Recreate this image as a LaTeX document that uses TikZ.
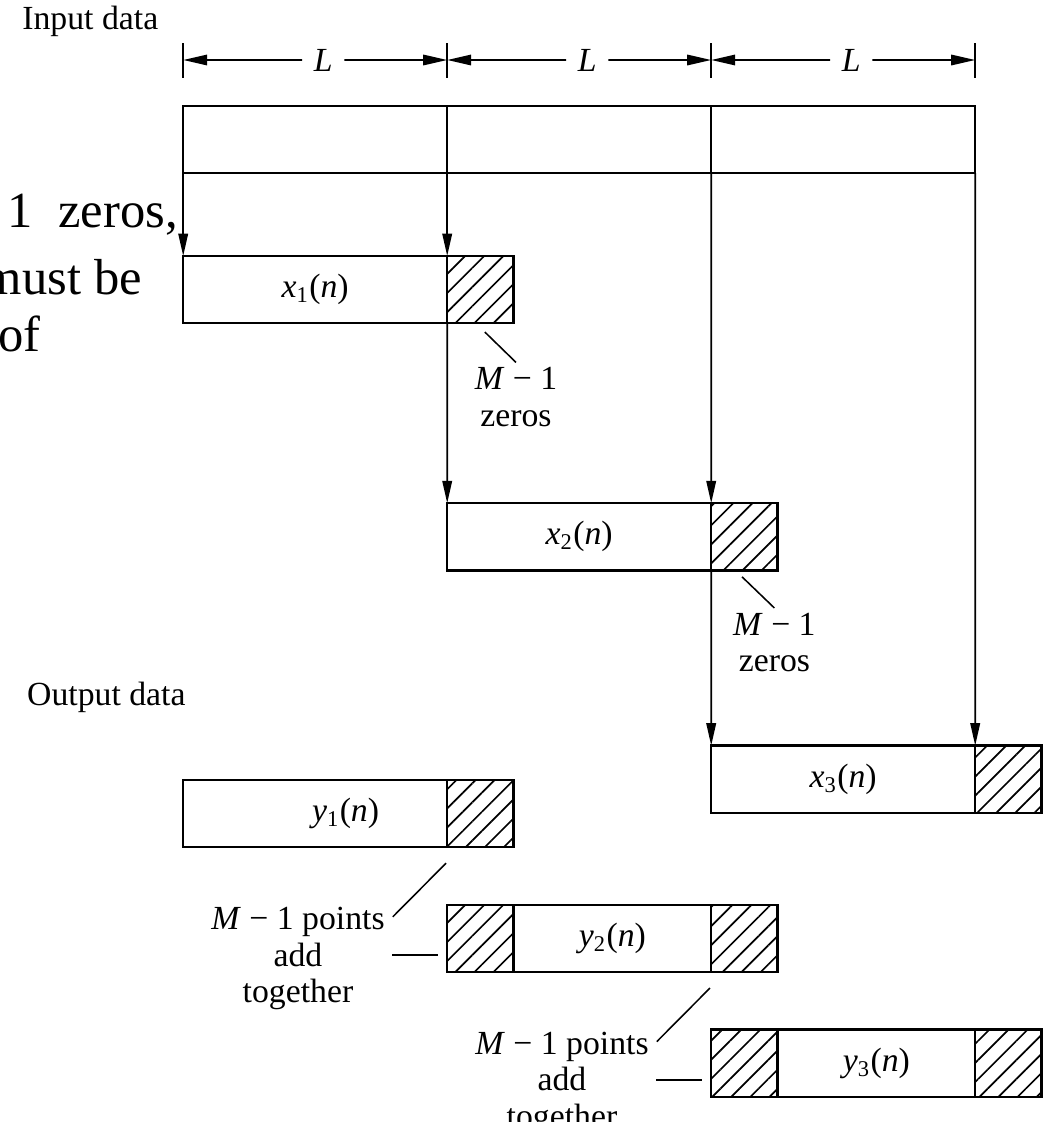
\documentclass[tikz,border=0pt]{standalone}
\usepackage{fontspec}
\setmainfont{Liberation Serif}
\usepackage{tikz}
\usetikzlibrary{positioning,arrows.meta,calc,patterns.meta}
\newcommand{\seqlab}[2]{\textit{#1}\textsubscript{#2}(\textit{n})}
\tikzset{
  flowarrow/.style={-{Triangle[length=2.8mm, width=1.2mm]}, line width=0.6pt},
  dimarrow/.style={-{Triangle[length=3mm, width=1.3mm]}, line width=0.7pt},
  leader/.style={line width=0.55pt},
  segbox/.style={draw, line width=0.8pt, minimum width=3.3cm, minimum height=0.84cm, inner sep=0pt, outer sep=0pt, font=\fontsize{12}{13.5}\selectfont},
  databox/.style={segbox},
  shortbox/.style={segbox, minimum width=2.47cm},
  zerobox/.style={draw, line width=0.8pt, minimum width=0.83cm, minimum height=0.84cm, inner sep=0pt, outer sep=0pt, pattern={Lines[angle=45, distance=4.8pt, line width=0.6pt]}},
  txt/.style={font=\fontsize{12}{13}\selectfont, align=center, inner sep=1.5pt},
  pagetxt/.style={font=\fontsize{18}{22}\selectfont, anchor=base west, inner sep=0pt}
}

\begin{document}
\begin{tikzpicture}
  \useasboundingbox (0,0) rectangle (13.0625,-14.025);
  % text of the page, cut at the left edge
  \node[pagetxt] (pg1) at (0.09,-2.84) {1\enspace zeros,};
  \node[pagetxt] (pg2) at (-0.22,-3.68) {must be};
  \node[pagetxt] (pg3) at (-0.03,-4.39) {of};

  % input data
  \node[txt, anchor=west] (inlab) at (0.22,-0.27) {Input data};
  \node[segbox] (s1) at (3.94,-1.745) {};
  \node[segbox, right=0pt of s1] (s2) {};
  \node[segbox, right=0pt of s2] (s3) {};

  % block lengths
  \foreach \i/\xx in {0/2.29,1/5.59,2/8.89,3/12.19} {
    \coordinate (t\i) at (\xx,-0.75);
    \draw[line width=0.6pt] (t\i) ++(0,0.21) -- ++(0,-0.44);
  }
  \foreach \i/\j in {0/1,1/2,2/3} {
    \node[txt, inner sep=4pt] (L\j) at ($(t\i)!0.5!(t\j)+(0.1,0)$) {\textit{L}};
    \draw[dimarrow] (L\j) -- (t\i);
    \draw[dimarrow] (L\j) -- (t\j);
  }

  % blocks with M-1 zeros appended
  \node[databox] (x1) at (3.94,-3.62) {\seqlab{x}{1}};
  \node[zerobox, right=0pt of x1] (z1) {};
  \node[databox] (x2) at (7.24,-6.71) {\seqlab{x}{2}};
  \node[zerobox, right=0pt of x2] (z2) {};
  \node[databox] (x3) at (10.54,-9.74) {\seqlab{x}{3}};
  \node[zerobox, right=0pt of x3] (z3) {};
  \draw[flowarrow] (s1.south west) -- (x1.north west);
  \draw[flowarrow] (s2.south west) -- (x1.north east);
  \draw[flowarrow] (x1.south east) -- (x2.north west);
  \draw[flowarrow] (s3.south west) -- (x2.north east);
  \draw[flowarrow] (x2.south east) -- (x3.north west);
  \draw[flowarrow] (s3.south east) -- (x3.north east);

  \coordinate (n1) at (6.06,-4.15);
  \node[txt, anchor=north] (m1) at (6.45,-4.53) {\textit{M} − 1\\zeros};
  \draw[leader] (n1) -- (m1.north);
  \coordinate (n2) at (9.275,-7.21);
  \node[txt, anchor=north] (m2) at (9.68,-7.6) {\textit{M} − 1\\zeros};
  \draw[leader] (n2) -- (m2.north);

  % output data
  \node[txt, anchor=west] (outlab) at (0.28,-8.72) {Output data};
  \node[databox] (y1) at (3.94,-10.17) {};
  \node[txt] (y1lab) at ($(y1)+(0.38,0)$) {\seqlab{y}{1}};
  \node[zerobox, right=0pt of y1] (hy1) {};
  \node[zerobox] (hy2a) at (6.005,-11.73) {};
  \node[shortbox, right=0pt of hy2a] (y2) {\seqlab{y}{2}};
  \node[zerobox, right=0pt of y2] (hy2b) {};
  \node[zerobox] (hy3a) at (9.305,-13.29) {};
  \node[shortbox, right=0pt of hy3a] (y3) {\seqlab{y}{3}};
  \node[zerobox, right=0pt of y3] (hy3b) {};

  % overlapping points
  \coordinate (p1) at (5.575,-10.79);
  \coordinate (q1) at (4.91,-11.46);
  \draw[leader] (p1) -- (q1);
  \node[txt, anchor=north] (a1) at (3.725,-11.28) {\textit{M} − 1 points\\add\\together};
  \coordinate (r1) at (4.9,-11.94);
  \draw[leader, shorten >=0.11cm] (r1) -- (r1 -| hy2a.west);
  \coordinate (p2) at (8.875,-12.35);
  \coordinate (q2) at (8.21,-13.02);
  \draw[leader] (p2) -- (q2);
  \node[txt, anchor=north] (a2) at (7.025,-12.84) {\textit{M} − 1 points\\add\\together};
  \coordinate (r2) at (8.2,-13.5);
  \draw[leader, shorten >=0.11cm] (r2) -- (r2 -| hy3a.west);
\end{tikzpicture}
\end{document}
